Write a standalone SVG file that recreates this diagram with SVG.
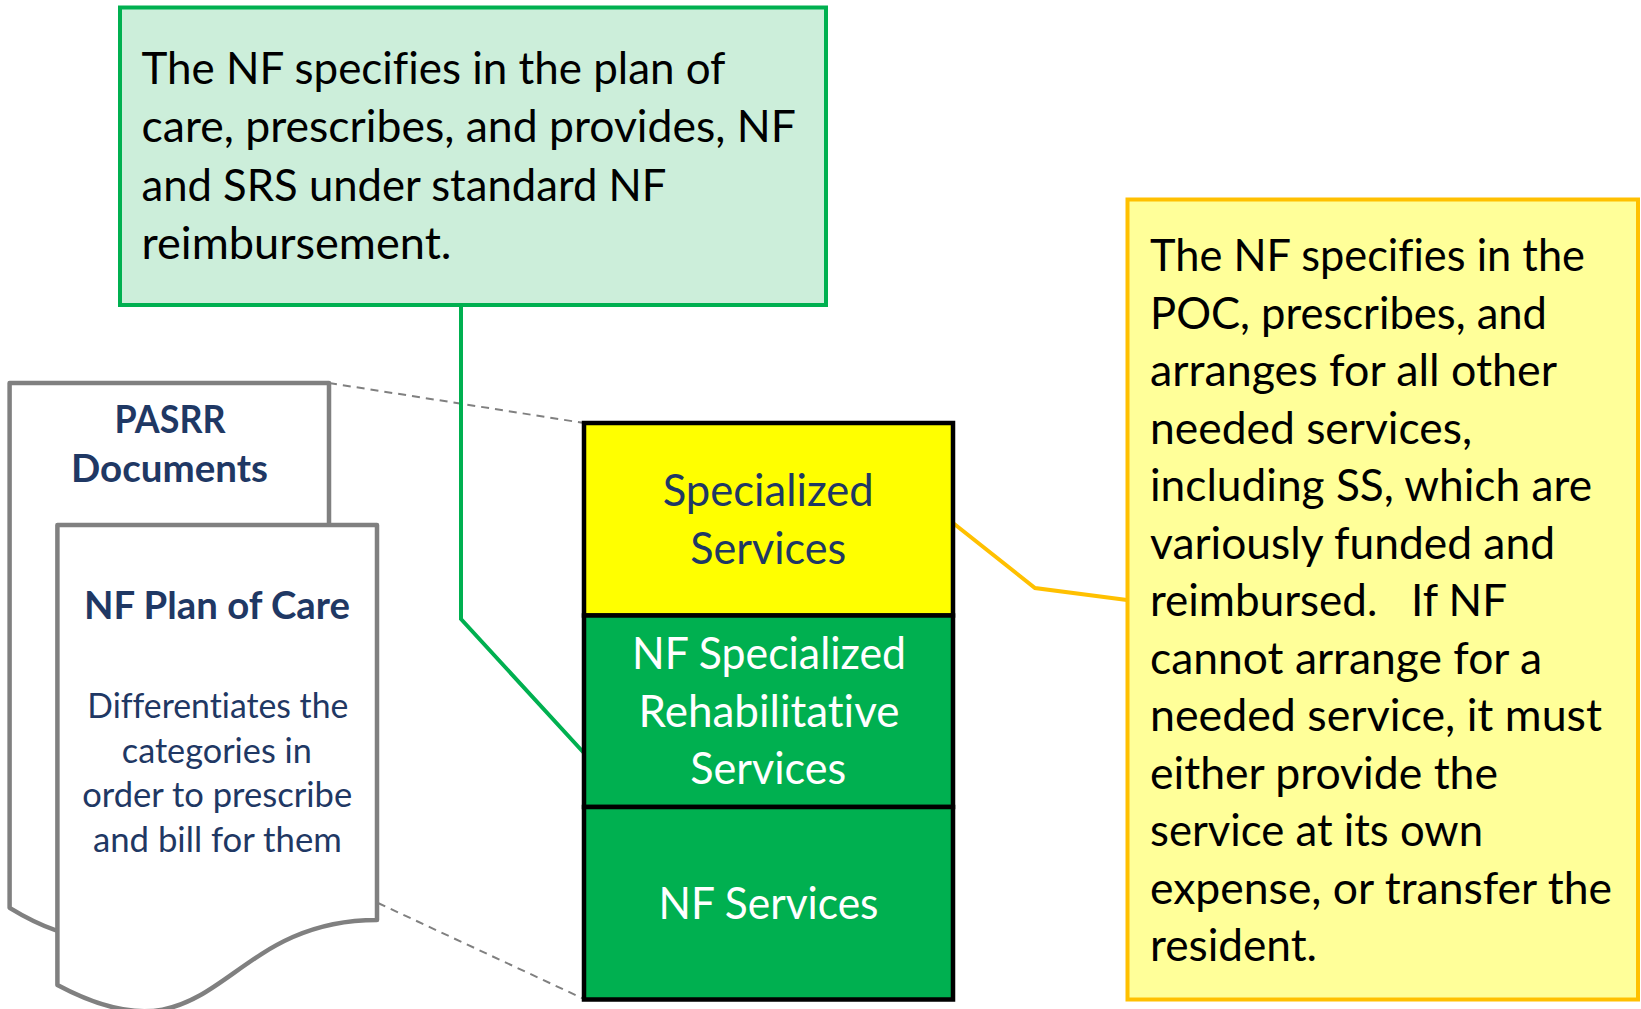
<svg xmlns="http://www.w3.org/2000/svg" width="1641" height="1009" viewBox="0 0 1641 1009">
<style>
text{font-family:Lato,"Liberation Sans",sans-serif;font-variant-ligatures:none;font-feature-settings:"liga" 0,"dlig" 0;}
.big{font-size:44px;}
.blk{fill:#000000;}
.navy{fill:#1F3864;}
.wht{fill:#FFFFFF;}
.mid{text-anchor:middle;}
.ttl{font-size:38px;font-weight:bold;fill:#1F3864;text-anchor:middle;}
.body{font-size:34px;fill:#1F3864;text-anchor:middle;}
.doc{fill:#FFFFFF;stroke:#808080;stroke-width:4.5;stroke-linejoin:round;}
.cell{stroke:#000000;stroke-width:4.5;}
.dash{fill:none;stroke:#808080;stroke-width:2;stroke-dasharray:8 6;}
</style>
<rect width="1641" height="1009" fill="#FFFFFF"/>
<g id="connectors">
<polyline class="dash" points="329,383 584,423"/>
<polyline class="dash" points="378,903 584,999"/>
<polyline points="461,305 461,619 584,753" fill="none" stroke="#00B050" stroke-width="4"/>
<polyline points="953,523 1035,588 1127,600" fill="none" stroke="#FFC000" stroke-width="4"/>
</g>
<g id="pasrr-documents">
<path class="doc" d="M9.6 383 L329 383 L329 833.7 C169.3 833.7 169.3 1005.4 9.6 907.8 Z"/>
<text class="ttl" x="170" y="433" textLength="111" lengthAdjust="spacingAndGlyphs">PASRR</text>
<text class="ttl" x="169.5" y="482" textLength="197" lengthAdjust="spacingAndGlyphs">Documents</text>
</g>
<g id="nf-plan-of-care">
<path class="doc" d="M57.4 525 L377 525 L377 920 C217.2 920 217.2 1070.6 57.4 985 Z"/>
<text class="ttl" x="217" y="619" textLength="266" lengthAdjust="spacingAndGlyphs">NF Plan of Care</text>
<text class="body" x="217.8" y="718" textLength="261" lengthAdjust="spacingAndGlyphs">Differentiates the</text>
<text class="body" x="216.8" y="763" textLength="190" lengthAdjust="spacingAndGlyphs">categories in</text>
<text class="body" x="217.2" y="807" textLength="270" lengthAdjust="spacingAndGlyphs">order to prescribe</text>
<text class="body" x="217.4" y="852" textLength="249" lengthAdjust="spacingAndGlyphs">and bill for them</text>
</g>
<g id="nf-srs-note">
<rect x="120" y="7.5" width="706" height="297.5" fill="#CCEEDA" stroke="#00B050" stroke-width="4"/>
<text class="big blk" x="141.5" y="84" textLength="584" lengthAdjust="spacingAndGlyphs">The NF specifies in the plan of</text>
<text class="big blk" x="141.5" y="142" textLength="654.5" lengthAdjust="spacingAndGlyphs">care, prescribes, and provides, NF</text>
<text class="big blk" x="141.5" y="200.5" textLength="525" lengthAdjust="spacingAndGlyphs">and SRS under standard NF</text>
<text class="big blk" x="141.5" y="259" textLength="310" lengthAdjust="spacingAndGlyphs">reimbursement.</text>
</g>
<g id="specialized-services">
<rect class="cell" x="584" y="423" width="369" height="192.5" fill="#FFFF00"/>
<text class="big navy mid" x="768.2" y="506" textLength="211" lengthAdjust="spacingAndGlyphs">Specialized</text>
<text class="big navy mid" x="768.2" y="563.5" textLength="156" lengthAdjust="spacingAndGlyphs">Services</text>
</g>
<g id="nf-specialized-rehabilitative-services">
<rect class="cell" x="584" y="615.5" width="369" height="191.5" fill="#00B050"/>
<text class="big wht mid" x="769" y="669" textLength="274" lengthAdjust="spacingAndGlyphs">NF Specialized</text>
<text class="big wht mid" x="769" y="726.5" textLength="261" lengthAdjust="spacingAndGlyphs">Rehabilitative</text>
<text class="big wht mid" x="768.2" y="784" textLength="156" lengthAdjust="spacingAndGlyphs">Services</text>
</g>
<g id="nf-services">
<rect class="cell" x="584" y="807" width="369" height="192.5" fill="#00B050"/>
<text class="big wht mid" x="768.5" y="918.5" textLength="220" lengthAdjust="spacingAndGlyphs">NF Services</text>
</g>
<g id="other-services-note">
<rect x="1127.5" y="199.5" width="510.5" height="800" fill="#FFFF99" stroke="#FFC000" stroke-width="4"/>
<g class="big blk">
<text x="1150" y="271" textLength="435" lengthAdjust="spacingAndGlyphs">The NF specifies in the</text>
<text x="1150" y="328.5" textLength="397" lengthAdjust="spacingAndGlyphs">POC, prescribes, and</text>
<text x="1150" y="386" textLength="407" lengthAdjust="spacingAndGlyphs">arranges for all other</text>
<text x="1150" y="443.5" textLength="322" lengthAdjust="spacingAndGlyphs">needed services,</text>
<text x="1150" y="501" textLength="442" lengthAdjust="spacingAndGlyphs">including SS, which are</text>
<text x="1150" y="558.5" textLength="405" lengthAdjust="spacingAndGlyphs">variously funded and</text>
<text x="1150" y="616" textLength="357" lengthAdjust="spacingAndGlyphs">reimbursed.&#160;&#160; If NF</text>
<text x="1150" y="673.5" textLength="392" lengthAdjust="spacingAndGlyphs">cannot arrange for a</text>
<text x="1150" y="731" textLength="452" lengthAdjust="spacingAndGlyphs">needed service, it must</text>
<text x="1150" y="788.5" textLength="348" lengthAdjust="spacingAndGlyphs">either provide the</text>
<text x="1150" y="846" textLength="333" lengthAdjust="spacingAndGlyphs">service at its own</text>
<text x="1150" y="903.5" textLength="462" lengthAdjust="spacingAndGlyphs">expense, or transfer the</text>
<text x="1150" y="961" textLength="167" lengthAdjust="spacingAndGlyphs">resident.</text>
</g>
</g>
</svg>
